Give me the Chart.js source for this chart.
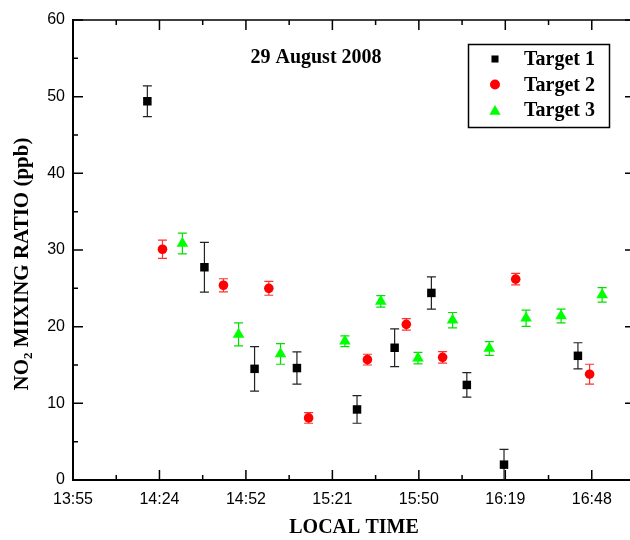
<!DOCTYPE html>
<html><head><meta charset="utf-8">
<script src="https://cdn.jsdelivr.net/npm/chart.js@4/dist/chart.umd.min.js"></script>
<style>html,body{margin:0;padding:0;background:#fff}</style>
</head><body>
<canvas id="c" width="630" height="540"></canvas>
<script>
// Time axis is in fraction of a day; tick labels as printed on the reference
const timeTickValues = [0.58, 0.60, 0.62, 0.64, 0.66, 0.68, 0.70];
const timeLabels = ['13:55', '14:24', '14:52', '15:21', '15:50', '16:19', '16:48'];
const yTickLabels = ['0', '10', '20', '30', '40', '50', '60'];
const seriesNames = ['Target 1', 'Target 2', 'Target 3'];

const t1Time = [0.5972, 0.6104, 0.6220, 0.6318, 0.6457, 0.6544, 0.6629, 0.6711, 0.6797, 0.6968];
const t1Val  = [49.4, 27.75, 14.5, 14.6, 9.2, 17.25, 24.4, 12.4, 2.0, 16.2];
const t1Err  = [2.0, 3.25, 2.9, 2.1, 1.8, 2.45, 2.1, 1.6, 2.0, 1.7];

const t2Time = [0.6007, 0.6148, 0.6253, 0.6345, 0.6481, 0.6571, 0.6655, 0.6824, 0.6995];
const t2Val  = [30.1, 25.4, 25.0, 8.1, 15.7, 20.3, 16.0, 26.2, 13.8];
const t2Err  = [1.2, 0.85, 0.9, 0.7, 0.7, 0.75, 0.75, 0.75, 1.3];

const t3Time = [0.6053, 0.6183, 0.6280, 0.6429, 0.6512, 0.6598, 0.6678, 0.6763, 0.6848, 0.6929, 0.7024];
const t3Val  = [30.85, 19.0, 16.45, 18.1, 23.3, 15.9, 20.85, 17.15, 21.1, 21.4, 24.15];
const t3Err  = [1.35, 1.5, 1.35, 0.7, 0.75, 0.75, 1.0, 0.9, 1.05, 0.9, 0.95];

const errSets = [t1Err, t2Err, t3Err];
const pts = (xs, ys) => xs.map((x, i) => ({x: x, y: ys[i]}));

const SERIF = '"Liberation Serif", "Times New Roman", serif';
const SANS = '"Liberation Sans", Arial, sans-serif';
const AREA_RIGHT = 635; // plot frame runs just past the canvas edge

const deco = {
  id: 'deco',
  afterLayout(chart) {
    const a = chart.chartArea;
    a.right = AREA_RIGHT;
    a.width = a.right - a.left;
    const x = chart.scales.x;
    x.right = AREA_RIGHT;
    x.width = x.right - x.left;
    x.configure();
  },
  beforeDatasetsDraw(chart) {
    const {ctx, scales: {x, y}} = chart;
    chart.data.datasets.forEach((ds, i) => {
      const errs = errSets[i];
      ctx.save();
      ctx.strokeStyle = ds.errColor;
      ctx.lineWidth = 1.2;
      ds.data.forEach((p, j) => {
        const px = x.getPixelForValue(p.x);
        const yt = y.getPixelForValue(p.y + errs[j]);
        const yb = y.getPixelForValue(Math.max(0, p.y - errs[j]));
        ctx.beginPath();
        ctx.moveTo(px, yt); ctx.lineTo(px, yb);
        ctx.moveTo(px - 4.5, yt); ctx.lineTo(px + 4.5, yt);
        ctx.moveTo(px - 4.5, yb); ctx.lineTo(px + 4.5, yb);
        ctx.stroke();
      });
      ctx.restore();
    });
  },
  afterDraw(chart) {
    const {ctx, chartArea: a, scales: {x, y}} = chart;
    ctx.save();
    ctx.strokeStyle = '#000';
    ctx.lineWidth = 1.5;
    ctx.beginPath();
    ctx.moveTo(a.left, a.top); ctx.lineTo(a.right, a.top); ctx.lineTo(a.right, a.bottom);
    ctx.moveTo(a.left, a.bottom); ctx.lineTo(a.right, a.bottom);
    ctx.stroke();
    ctx.lineWidth = 1.5;
    ctx.beginPath();
    y.ticks.forEach(t => {
      const py = y.getPixelForValue(t.value);
      ctx.moveTo(a.left, py); ctx.lineTo(a.left + 10, py);
      ctx.moveTo(a.right, py); ctx.lineTo(a.right - 10, py);
      if (t.value + 5 < y.max) {
        const pm = y.getPixelForValue(t.value + 5);
        ctx.moveTo(a.left, pm); ctx.lineTo(a.left + 5, pm);
        ctx.moveTo(a.right, pm); ctx.lineTo(a.right - 5, pm);
      }
    });
    x.ticks.forEach(t => {
      const px = x.getPixelForValue(t.value);
      ctx.moveTo(px, a.bottom); ctx.lineTo(px, a.bottom - 10);
      ctx.moveTo(px, a.top); ctx.lineTo(px, a.top + 10);
      if (t.value + 0.01 < x.max) {
        const pm = x.getPixelForValue(t.value + 0.01);
        ctx.moveTo(pm, a.bottom); ctx.lineTo(pm, a.bottom - 5);
        ctx.moveTo(pm, a.top); ctx.lineTo(pm, a.top + 5);
      }
    });
    ctx.stroke();

    ctx.fillStyle = '#000';
    ctx.font = 'bold 20px ' + SERIF;
    ctx.textAlign = 'center';
    ctx.textBaseline = 'middle';
    ctx.fillText('29 August 2008', 316, 58);

    ctx.save();
    ctx.translate(21, 264);
    ctx.rotate(-Math.PI / 2);
    const big = 'bold 21px ' + SERIF, small = 'bold 13px ' + SERIF;
    ctx.textAlign = 'left';
    ctx.textBaseline = 'alphabetic';
    ctx.font = big; const w1 = ctx.measureText('NO').width;
    const w3 = ctx.measureText(' MIXING RATIO (ppb)').width;
    ctx.font = small; const w2 = ctx.measureText('2').width;
    let sx = -(w1 + w2 + w3) / 2;
    const base = 7;
    ctx.font = big; ctx.fillText('NO', sx, base); sx += w1;
    ctx.font = small; ctx.fillText('2', sx, base + 4); sx += w2;
    ctx.font = big; ctx.fillText(' MIXING RATIO (ppb)', sx, base);
    ctx.restore();

    ctx.lineWidth = 1.5;
    ctx.strokeStyle = '#000';
    ctx.strokeRect(468.5, 44.5, 141, 83);
    const rowY = [59, 84.5, 110];
    const legR = [5, 5, 6.5];
    chart.data.datasets.forEach((ds, i) => {
      ctx.fillStyle = ds.backgroundColor;
      Chart.helpers.drawPoint(ctx, {pointStyle: ds.pointStyle, rotation: 0, radius: legR[i], borderWidth: 0}, 495, rowY[i] + (i === 2 ? 1.5 : 0));
      ctx.fillStyle = '#000';
      ctx.font = 'bold 20px ' + SERIF;
      ctx.textAlign = 'left';
      ctx.textBaseline = 'middle';
      ctx.fillText(seriesNames[i], 524, rowY[i] + 1);
    });
    ctx.restore();
  }
};

new Chart(document.getElementById('c'), {
  type: 'scatter',
  data: {
    datasets: [
      {label: seriesNames[0], data: pts(t1Time, t1Val), pointStyle: 'rect', pointRadius: 6, backgroundColor: '#000', borderColor: '#000', pointBorderWidth: 0, errColor: '#222'},
      {label: seriesNames[1], data: pts(t2Time, t2Val), pointStyle: 'circle', pointRadius: 4.8, backgroundColor: '#ff0000', borderColor: '#ff0000', pointBorderWidth: 0, errColor: '#ff3030'},
      {label: seriesNames[2], data: pts(t3Time, t3Val), pointStyle: 'triangle', pointRadius: 6.7, backgroundColor: '#00ff00', borderColor: '#00ff00', pointBorderWidth: 0, errColor: '#00e000'}
    ]
  },
  options: {
    responsive: false,
    animation: false,
    events: [],
    layout: {padding: {top: 20, right: 0, left: 0, bottom: 0}},
    plugins: {legend: {display: false}, tooltip: {enabled: false}},
    scales: {
      x: {
        type: 'linear', min: 0.58, max: 0.71,
        afterFit(s) { s.height = 60; },
        afterBuildTicks(s) { s.ticks = timeTickValues.map(v => ({value: v})); },
        grid: {display: false, drawTicks: false},
        border: {display: true, color: '#000', width: 2},
        ticks: {
          padding: 10, color: '#000', maxRotation: 0, autoSkip: false,
          font: {family: SANS, size: 16},
          callback(v) { const i = Math.round((v - 0.58) / 0.02); return timeLabels[i] ?? ''; }
        },
        title: {display: true, text: 'LOCAL TIME', color: '#000', padding: {top: 0, bottom: 0},
          font: {family: SERIF, size: 20, weight: 'bold'}}
      },
      y: {
        min: 0, max: 60,
        afterFit(s) { s.width = 73; },
        grid: {display: false, drawTicks: false},
        border: {display: true, color: '#000', width: 2},
        ticks: {
          stepSize: 10, padding: 8, color: '#000',
          font: {family: SANS, size: 16},
          callback(v) { return yTickLabels[Math.round(v / 10)]; }
        }
      }
    }
  },
  plugins: [deco]
});
</script>
</body></html>
